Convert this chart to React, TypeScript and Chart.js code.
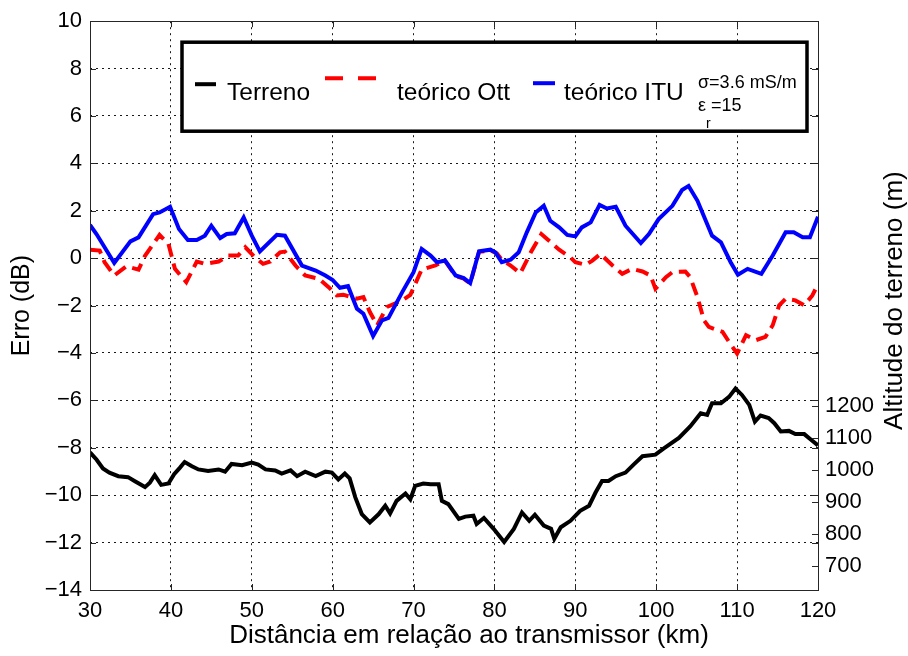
import { useEffect, useRef } from "react";
import { Chart, registerables } from "chart.js";

Chart.register(...registerables);

// ---------- data ----------
const ituKm = [30.0, 30.8, 33.0, 35.0, 36.0, 37.8, 38.6, 39.9, 41.0, 42.1, 43.2, 44.2, 45.0, 46.1, 46.9, 47.9, 49.0, 50.0, 51.0, 53.1, 54.1, 56.2, 57.9, 59.1, 60.0, 60.9, 61.9, 63.0, 63.8, 65.0, 66.1, 66.9, 68.6, 70.0, 71.0, 72.1, 72.9, 73.9, 75.2, 76.2, 77.0, 78.1, 79.5, 80.1, 80.9, 82.0, 83.0, 84.0, 85.1, 86.1, 86.9, 88.0, 89.0, 90.0, 90.8, 91.9, 93.0, 93.9, 95.0, 96.2, 98.1, 99.1, 100.3, 102.0, 103.2, 104.0, 105.1, 106.9, 108.0, 109.2, 110.1, 111.3, 113.0, 114.4, 116.0, 117.0, 118.1, 119.0, 120.0];
const ituErr = [1.40, 1.02, -0.20, 0.71, 0.88, 1.86, 1.93, 2.17, 1.23, 0.77, 0.77, 0.95, 1.37, 0.85, 1.02, 1.05, 1.72, 0.95, 0.29, 0.99, 0.95, -0.31, -0.52, -0.73, -0.92, -1.25, -1.18, -2.13, -2.34, -3.28, -2.62, -2.52, -1.43, -0.59, 0.39, 0.11, -0.17, -0.10, -0.73, -0.84, -1.05, 0.29, 0.36, 0.25, -0.17, -0.06, 0.25, 1.09, 1.93, 2.21, 1.58, 1.30, 0.98, 0.92, 1.30, 1.51, 2.25, 2.10, 2.17, 1.37, 0.64, 1.02, 1.65, 2.21, 2.88, 3.05, 2.42, 0.95, 0.67, -0.17, -0.70, -0.45, -0.66, 0.11, 1.09, 1.09, 0.88, 0.88, 1.75];

const ottKm = [30.0, 31.2, 31.8, 33.0, 34.5, 36.0, 36.8, 37.4, 38.6, 39.7, 40.5, 41.9, 43.2, 44.2, 45.9, 47.1, 48.3, 49.2, 50.4, 51.4, 52.3, 53.5, 54.1, 55.4, 56.6, 58.3, 59.5, 60.5, 61.3, 63.0, 63.8, 64.6, 65.5, 66.7, 68.6, 69.6, 71.0, 72.7, 73.9, 75.2, 76.2, 77.0, 78.1, 79.5, 80.3, 80.9, 82.0, 83.2, 84.5, 85.8, 86.5, 88.0, 89.4, 90.0, 91.3, 92.1, 93.1, 94.6, 95.8, 97.0, 98.3, 99.3, 99.9, 101.2, 102.0, 103.6, 104.2, 105.1, 105.9, 106.5, 108.2, 109.0, 110.0, 111.1, 112.3, 113.5, 114.4, 115.2, 116.0, 117.2, 118.3, 119.3, 120.0];
const ottErr = [0.36, 0.32, -0.17, -0.73, -0.34, -0.48, 0.10, 0.39, 0.98, 0.60, -0.45, -1.01, -0.14, -0.24, -0.14, 0.11, 0.11, 0.46, 0.03, -0.24, -0.14, 0.25, 0.28, -0.31, -0.73, -0.87, -1.22, -1.57, -1.54, -1.71, -1.64, -2.27, -2.83, -2.06, -1.78, -1.55, -0.48, -0.30, -0.12, -0.75, -0.86, -1.07, 0.27, 0.33, 0.20, -0.06, -0.31, -0.64, 0.25, 1.02, 0.81, 0.36, 0.03, -0.17, -0.28, -0.10, 0.18, -0.31, -0.66, -0.45, -0.56, -0.73, -1.29, -0.80, -0.59, -0.56, -0.80, -1.64, -2.62, -2.90, -3.11, -3.53, -4.02, -3.25, -3.46, -3.32, -2.83, -1.99, -1.71, -1.78, -1.99, -1.57, -1.10];

const terrainKm = [30.0, 30.8, 31.6, 32.4, 33.5, 34.7, 35.5, 36.8, 37.4, 38.0, 38.8, 39.7, 40.4, 41.1, 41.7, 42.6, 43.4, 44.6, 45.9, 46.7, 47.5, 48.8, 50.0, 50.8, 51.7, 52.9, 53.7, 54.8, 55.6, 56.6, 57.9, 59.1, 59.9, 60.7, 61.5, 62.1, 62.8, 63.6, 64.6, 65.7, 66.5, 67.1, 67.9, 69.0, 69.6, 70.2, 71.2, 72.1, 73.1, 73.5, 74.3, 75.6, 76.4, 77.4, 77.8, 78.7, 79.9, 81.2, 82.4, 83.4, 84.3, 85.0, 86.1, 87.0, 87.4, 88.2, 89.4, 90.6, 91.7, 92.5, 93.3, 94.1, 95.0, 96.2, 97.2, 98.3, 99.9, 100.9, 102.8, 104.2, 105.5, 106.3, 106.9, 108.0, 109.0, 109.8, 110.6, 111.5, 112.2, 112.9, 113.9, 114.6, 115.4, 116.4, 117.2, 118.3, 119.1, 120.0];
const terrainAlt = [1055, 1033, 1005, 992, 981, 978, 966, 947, 961, 984, 954, 958, 987, 1007, 1025, 1012, 1002, 997, 1002, 995, 1019, 1015, 1023, 1017, 1002, 999, 989, 999, 981, 995, 981, 995, 992, 971, 989, 974, 915, 863, 837, 863, 889, 865, 904, 927, 909, 951, 958, 956, 956, 904, 894, 848, 855, 858, 832, 851, 817, 776, 817, 868, 842, 861, 827, 817, 786, 822, 842, 873, 889, 930, 966, 966, 981, 992, 1017, 1043, 1048, 1067, 1100, 1136, 1177, 1172, 1208, 1208, 1228, 1254, 1234, 1203, 1151, 1170, 1162, 1146, 1120, 1122, 1112, 1112, 1095, 1077];

const altTicks = [700, 800, 900, 1000, 1100, 1200];
const seriesLabels = ["teórico ITU", "teórico Ott", "Terreno"];
const xTitle = "Distância em relação ao transmissor (km)";
const yTitle = "Erro (dB)";
const y2Title = "Altitude do terreno (m)";
const noteSigma = "σ=3.6 mS/m";
const noteEps = "ε";
const noteEpsVal = "=15";
const noteEpsSub = "r";

const FONT = "'Liberation Sans', Arial, Helvetica, sans-serif";

const toPts = (xs: number[], ys: number[]) => xs.map((x, i) => ({ x, y: ys[i] }));
const fmtMinus = (v: number) => (v < 0 ? "\u2212" + Math.abs(v) : String(v));

const framePlugin = {
  id: "matlabFrame",
  afterDatasetsDraw(chart: any) {
    const { ctx, chartArea: a, scales } = chart;
    ctx.save();
    ctx.strokeStyle = "#262626";
    ctx.lineWidth = 1;
    const tl = 6;
    ctx.beginPath();
    scales.x.ticks.forEach((t: any) => {
      const px = Math.round(scales.x.getPixelForValue(t.value)) + 0.5;
      ctx.moveTo(px, a.bottom);
      ctx.lineTo(px, a.bottom - tl);
      ctx.moveTo(px, a.top);
      ctx.lineTo(px, a.top + tl);
    });
    scales.y.ticks.forEach((t: any) => {
      const py = Math.round(scales.y.getPixelForValue(t.value)) + 0.5;
      ctx.moveTo(a.left, py);
      ctx.lineTo(a.left + tl, py);
      ctx.moveTo(a.right, py);
      ctx.lineTo(a.right - tl, py);
    });
    scales.y2.ticks.forEach((t: any) => {
      const py = Math.round(scales.y2.getPixelForValue(t.value)) + 0.5;
      ctx.moveTo(a.right, py);
      ctx.lineTo(a.right - tl, py);
    });
    ctx.stroke();
    ctx.strokeRect(Math.round(a.left) + 0.5, Math.round(a.top) + 0.5, Math.round(a.right - a.left), Math.round(a.bottom - a.top));
    ctx.restore();
  },
  afterDraw(chart: any) {
    const { ctx, chartArea: a } = chart;
    const ds = chart.data.datasets;
    ctx.save();
    // x axis title (MATLAB centres it slightly right of the plot centre)
    ctx.fillStyle = "#000";
    ctx.font = `26px ${FONT}`;
    ctx.textAlign = "center";
    ctx.textBaseline = "middle";
    ctx.fillText(xTitle, (a.left + a.right) / 2 + 15, a.bottom + 46);
    // right axis title (reads bottom-to-top)
    ctx.translate(a.right + 84, (a.top + a.bottom) / 2 - 5);
    ctx.rotate(-Math.PI / 2);
    ctx.textBaseline = "alphabetic";
    ctx.fillText(y2Title, 0, 0);
    ctx.restore();

    // legend box
    const bx = a.left + 92;
    const by = a.top + 21;
    const bw = 625;
    const bh = 89;
    ctx.save();
    ctx.fillStyle = "#fff";
    ctx.fillRect(bx, by, bw, bh);
    ctx.lineWidth = 3.5;
    ctx.strokeStyle = "#000";
    ctx.strokeRect(bx, by, bw, bh);

    const sample = (d: any, x0: number, x1: number, y: number, dash: number[]) => {
      ctx.beginPath();
      ctx.strokeStyle = d.borderColor;
      ctx.lineWidth = d.borderWidth;
      ctx.setLineDash(dash);
      ctx.moveTo(x0, y);
      ctx.lineTo(x1, y);
      ctx.stroke();
      ctx.setLineDash([]);
    };
    ctx.fillStyle = "#000";
    ctx.font = `24.5px ${FONT}`;
    ctx.textBaseline = "alphabetic";
    ctx.textAlign = "left";
    // Terreno
    sample(ds[2], bx + 13, bx + 34, by + 42, []);
    ctx.fillText(ds[2].label, bx + 45, by + 58);
    // Ott
    sample(ds[1], bx + 143, bx + 205, by + 36, [18, 15]);
    ctx.fillText(ds[1].label, bx + 215, by + 58);
    // ITU
    sample(ds[0], bx + 351, bx + 373, by + 41, []);
    ctx.fillText(ds[0].label, bx + 382, by + 58);
    // soil parameters note
    ctx.font = `18px ${FONT}`;
    ctx.textBaseline = "middle";
    ctx.fillText(noteSigma, bx + 516, by + 41);
    ctx.fillText(noteEps, bx + 516, by + 64);
    ctx.fillText(noteEpsVal, bx + 529, by + 64);
    ctx.font = `14px ${FONT}`;
    ctx.fillText(noteEpsSub, bx + 524, by + 82);
    ctx.restore();
  },
};

export default function App() {
  const ref = useRef<HTMLCanvasElement>(null);

  useEffect(() => {
    if (!ref.current) return;
    const tickFont = { family: FONT, size: 22 };
    const chart = new Chart(ref.current, {
      type: "line",
      data: {
        datasets: [
          {
            label: seriesLabels[0],
            data: toPts(ituKm, ituErr),
            yAxisID: "y",
            borderColor: "#0000ff",
            borderWidth: 4,
            pointRadius: 0,
            tension: 0,
          },
          {
            label: seriesLabels[1],
            data: toPts(ottKm, ottErr),
            yAxisID: "y",
            borderColor: "#ff0000",
            borderWidth: 4,
            borderDash: [13, 7],
            pointRadius: 0,
            tension: 0,
          },
          {
            label: seriesLabels[2],
            data: toPts(terrainKm, terrainAlt),
            yAxisID: "y2",
            borderColor: "#000000",
            borderWidth: 4,
            pointRadius: 0,
            tension: 0,
          },
        ],
      },
      options: {
        animation: false,
        responsive: false,
        devicePixelRatio: 1,
        layout: { padding: { top: 16, left: 0, right: 0, bottom: 0 } },
        plugins: { legend: { display: false }, tooltip: { enabled: false } },
        scales: {
          x: {
            type: "linear",
            min: 30,
            max: 120,
            ticks: { stepSize: 10, font: tickFont, color: "#000", padding: 8, maxRotation: 0 },
            grid: { color: "rgba(0,0,0,0.9)", lineWidth: 1, drawTicks: false },
            border: { display: false, dash: [2, 4] },
            title: { display: false },
            afterFit: (s: any) => {
              s.height = 66;
            },
          },
          y: {
            type: "linear",
            position: "left",
            min: -14,
            max: 10,
            ticks: { stepSize: 2, font: tickFont, color: "#000", padding: 8, callback: (v: any) => fmtMinus(Number(v)) },
            grid: { color: "rgba(0,0,0,0.9)", lineWidth: 1, drawTicks: false },
            border: { display: false, dash: [2, 4] },
            title: {
              display: true,
              text: yTitle,
              color: "#000",
              font: { family: FONT, size: 25 },
              padding: { top: 7, bottom: 0 },
            },
            afterFit: (s: any) => {
              s.width = 90;
            },
          },
          y2: {
            type: "linear",
            position: "right",
            min: 626.5,
            max: 2398,
            afterBuildTicks: (s: any) => {
              s.ticks = altTicks.map((v) => ({ value: v }));
            },
            ticks: { font: tickFont, color: "#000", padding: 7, callback: (v: any) => String(v) },
            grid: { display: false, drawTicks: false },
            border: { display: false },
            afterFit: (s: any) => {
              s.width = 90;
            },
          },
        },
      },
      plugins: [framePlugin],
    } as any);
    return () => chart.destroy();
  }, []);

  return (
    <div style={{ position: "fixed", left: 0, top: 0, width: 908, height: 656, background: "#fff" }}>
      <canvas ref={ref} width={908} height={656} style={{ display: "block", width: 908, height: 656 }} />
    </div>
  );
}
